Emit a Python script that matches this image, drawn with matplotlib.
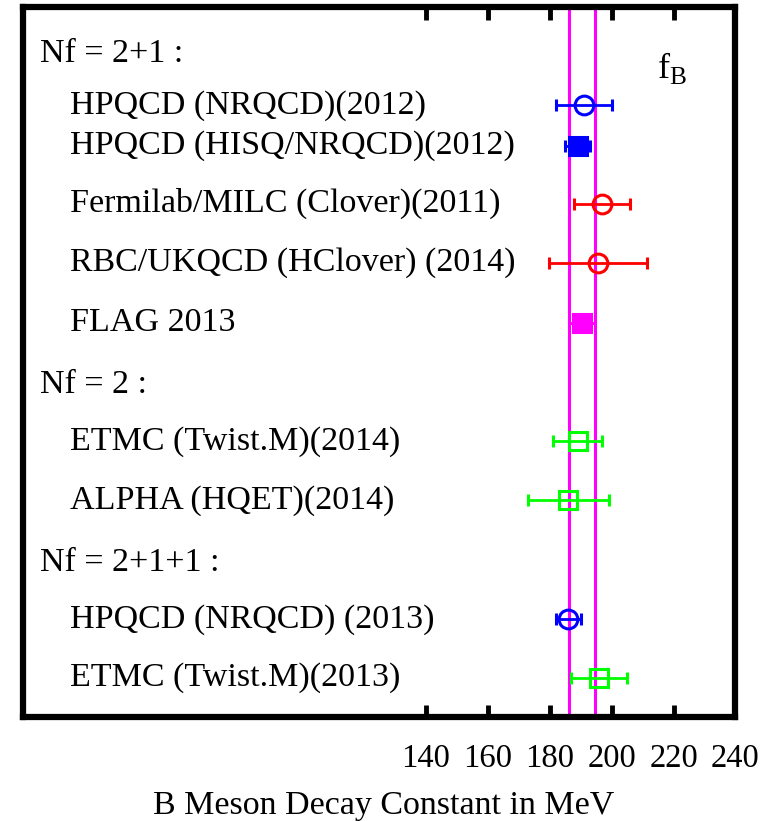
import matplotlib
matplotlib.use("Agg")
import matplotlib.pyplot as plt

plt.rcParams['font.family'] = ['Liberation Serif', 'DejaVu Serif']
plt.rcParams['mathtext.fontset'] = 'custom'
plt.rcParams['mathtext.rm'] = 'Liberation Serif'

# data (MeV)
labels = ["HPQCD (NRQCD)(2012)", "HPQCD (HISQ/NRQCD)(2012)",
          "Fermilab/MILC (Clover)(2011)", "RBC/UKQCD (HClover) (2014)",
          "FLAG 2013", "ETMC (Twist.M)(2014)", "ALPHA (HQET)(2014)",
          "HPQCD (NRQCD) (2013)", "ETMC (Twist.M)(2013)"]
values = [191.0, 189.0, 196.9, 195.6, 190.5, 189.0, 186.0, 186.0, 196.0]
errors = [9.0, 4.0, 9.1, 15.8, 4.2, 8.0, 13.0, 4.0, 9.0]
rows = [1.67, 2.35, 3.33, 4.33, 5.34, 7.34, 8.34, 10.35, 11.34]
colors = ["blue", "blue", "red", "red", "magenta", "lime", "lime", "blue", "lime"]
markers = ["o", "s", "o", "o", "s", "s", "s", "o", "s"]
filled = [False, True, False, False, True, False, False, False, False]

headers = ["Nf = 2+1 :", "Nf = 2 :", "Nf = 2+1+1 :"]
header_rows = [0.80, 6.38, 9.40]

flag_band = [186.3, 194.7]
xticks = [140, 160, 180, 200, 220, 240]

fig = plt.figure(figsize=(7.75, 8.21), dpi=100)
ax = fig.add_axes([0.0303, 0.1267, 0.9187, 0.8653])
ax.set_xlim(10, 240)
ax.set_ylim(12, 0)

for xb in flag_band:
    ax.axvline(xb, color="magenta", lw=2.2, zorder=1)

for v, e, r, c, m, f in zip(values, errors, rows, colors, markers, filled):
    ax.errorbar(v, r, xerr=e, fmt="none", ecolor=c, elinewidth=2,
                capsize=4, capthick=2.2, zorder=2)
    ax.plot(v, r, marker=m, ms=13.5, mec=c,
            mfc=c if f else "none", mew=2.2, ls="none", zorder=3)

fs = 24.5
for lab, r in zip(labels, rows):
    ax.text(0.0655, r, lab, transform=ax.get_yaxis_transform(),
            fontsize=fs, va="center", ha="left")
for h, r in zip(headers, header_rows):
    ax.text(0.0225, r, h, transform=ax.get_yaxis_transform(),
            fontsize=fs, va="center", ha="left")

ax.text(0.89, 0.90, r"$\mathrm{f}_\mathrm{B}$", transform=ax.transAxes,
        fontsize=26, ha="left", va="baseline")

ax.set_xticks(xticks)
ax.set_xticklabels([str(t) for t in xticks], fontsize=23.5)
ax.set_yticks([])
ax.tick_params(axis="x", direction="in", length=9, width=3.5, top=True,
               pad=19)
for s in ax.spines.values():
    s.set_linewidth(4.5)

fig.text(0.495, 0.019, "B Meson Decay Constant in MeV", fontsize=fs,
         ha="center", va="center")

fig.savefig("out.png", dpi=100)
